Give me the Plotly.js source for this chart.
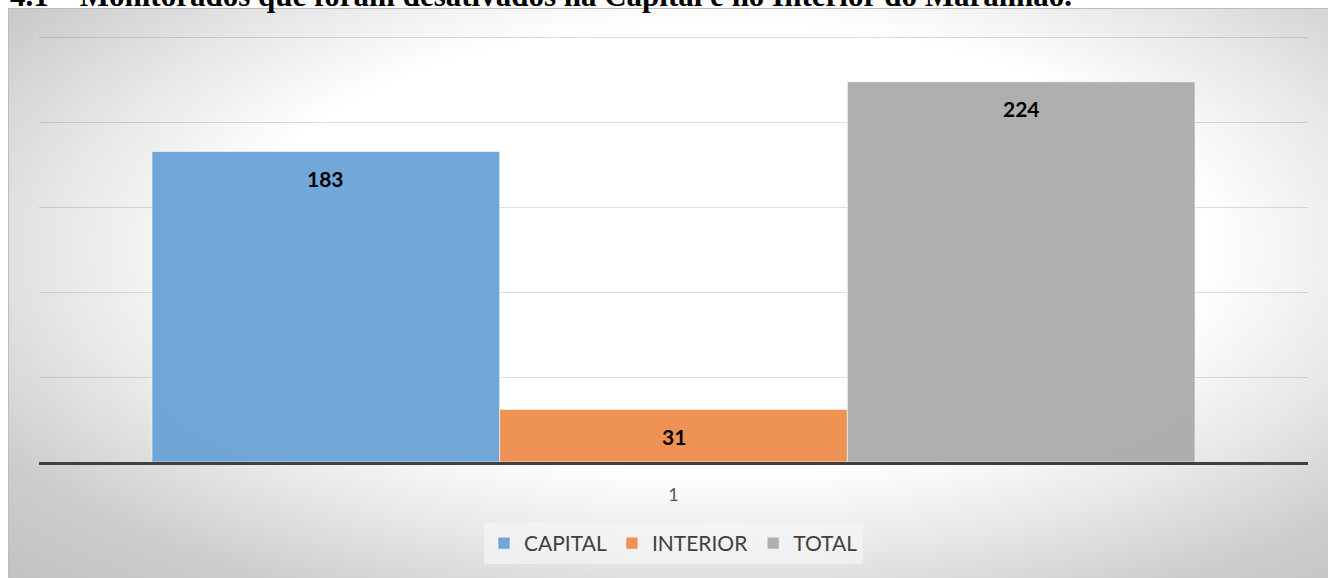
<!DOCTYPE html>
<html>
<head>
<meta charset="utf-8">
<script src="https://cdn.plot.ly/plotly-3.0.1.min.js"></script>
<style>
  html, body { margin: 0; padding: 0; background: #ffffff; }
  #wrap { position: relative; width: 1328px; height: 578px; overflow: hidden; }
  #bg { position: absolute; left: 8px; top: 8px; width: 1320px; height: 570px;
        border-left: 1px solid #bdbdbd; border-top: 1px solid #bdbdbd; box-sizing: border-box;
        background: radial-gradient(ellipse farthest-corner at 54% 42%, #ffffff 0%, #ffffff 48%, #e6e6e6 67%, #cdcdcd 84%, #c2c2c2 100%); }
  #chart { position: absolute; left: 0; top: 0; width: 1328px; height: 578px; }
</style>
</head>
<body>
<div id="wrap">
  <div id="bg"></div>
  <div id="chart"></div>
</div>
<script>
const titleText = "4.1 – Monitorados que foram desativados na Capital e no Interior do Maranhão.";
const categories = ["1"];
const seriesNames = ["CAPITAL", "INTERIOR", "TOTAL"];
const seriesValues = [[183], [31], [224]];
const seriesColors = ["rgb(104,161,216)", "rgb(238,139,72)", "rgb(170,170,170)"];

const W = 1328, H = 578;
const M = { l: 39, r: 20, t: 36, b: 116 };
const plotW = W - M.l - M.r, plotH = H - M.t - M.b;

const bargap = 0.178;
const traces = seriesNames.map((name, i) => ({
  type: "bar",
  name: name,
  x: categories,
  y: seriesValues[i],
  opacity: 0.93,
  marker: { color: seriesColors[i], line: { color: "rgba(255,255,255,0.6)", width: 1 } },
  hoverinfo: "skip"
}));

const n = seriesNames.length;
const barW = (1 - bargap) / n;
const annotations = [];
seriesNames.forEach((name, i) => {
  seriesValues[i].forEach((v, j) => {
    annotations.push({
      x: j - (1 - bargap) / 2 + barW * (i + 0.5),
      y: v, xref: "x", yref: "y",
      text: "<b>" + v + "</b>", showarrow: false,
      yanchor: "middle", yshift: -27,
      font: { family: "Lato, 'Open Sans', sans-serif", size: 21, color: "#000000" }
    });
  });
});

// Title (cut off at the top edge as in the reference)
annotations.push({
  text: "<b>" + titleText + "</b>",
  xref: "paper", yref: "paper",
  x: (8 - M.l) / plotW, xanchor: "left",
  y: 1 + (M.t + 4) / plotH, yanchor: "middle",
  showarrow: false,
  font: { family: "'Liberation Serif', 'Times New Roman', serif", size: 31, color: "#000000" }
});

const layout = {
  width: W, height: H,
  margin: M,
  paper_bgcolor: "rgba(0,0,0,0)",
  plot_bgcolor: "rgba(0,0,0,0)",
  barmode: "group",
  bargap: bargap,
  bargroupgap: 0,
  showlegend: true,
  legend: {
    orientation: "h", xref: "paper", x: 0.5, xanchor: "center",
    yref: "container", y: 1 - 523 / 578, yanchor: "top",
    bgcolor: "rgba(245,245,245,0.7)",
    font: { family: "Lato, 'Open Sans', sans-serif", size: 21, color: "#404040" },
    itemclick: false, itemdoubleclick: false
  },
  xaxis: {
    type: "category",
    showline: true, linecolor: "#404040", linewidth: 3,
    showgrid: false, ticks: "", zeroline: false,
    ticklabelstandoff: 14,
    tickfont: { family: "Lato, 'Open Sans', sans-serif", size: 18, color: "#595959" }
  },
  yaxis: {
    range: [0, 251], dtick: 50, tick0: 0,
    showticklabels: false, ticks: "",
    showgrid: true, gridcolor: "rgba(0,0,0,0.13)", gridwidth: 1,
    zeroline: false, showline: false
  },
  annotations: annotations
};

Plotly.newPlot("chart", traces, layout, { displayModeBar: false, staticPlot: true });
</script>
</body>
</html>
